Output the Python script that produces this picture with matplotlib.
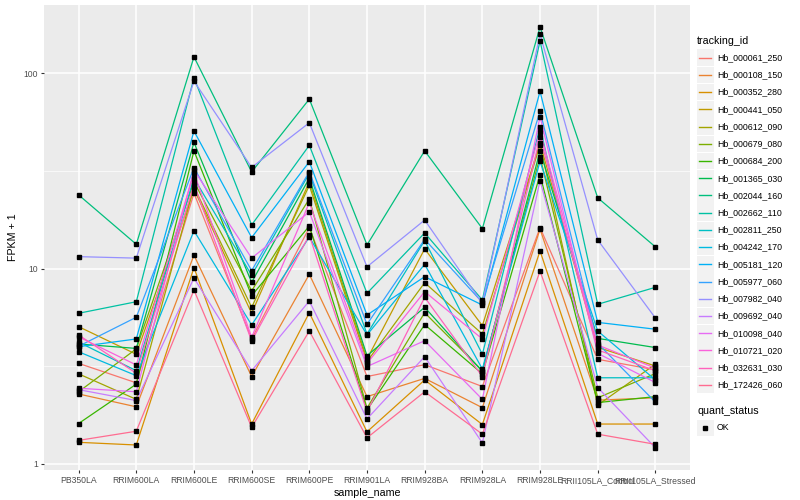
import matplotlib
matplotlib.use('Agg')
import matplotlib.pyplot as plt
from matplotlib.lines import Line2D
from matplotlib.patches import Rectangle

plt.rcParams['font.family'] = ['Liberation Sans', 'DejaVu Sans']

samples = ['PB350LA', 'RRIM600LA', 'RRIM600LE', 'RRIM600SE', 'RRIM600PE', 'RRIM901LA',
           'RRIM928BA', 'RRIM928LA', 'RRIM928LE', 'RRII105LA_Control', 'RRII105LA_Stressed']

tracking_ids = ['Hb_000061_250', 'Hb_000108_150', 'Hb_000352_280', 'Hb_000441_050',
                'Hb_000612_090', 'Hb_000679_080', 'Hb_000684_200', 'Hb_001365_030',
                'Hb_002044_160', 'Hb_002662_110', 'Hb_002811_250', 'Hb_004242_170',
                'Hb_005181_120', 'Hb_005977_060', 'Hb_007982_040', 'Hb_009692_040',
                'Hb_010098_040', 'Hb_010721_020', 'Hb_032631_030', 'Hb_172426_060']

# ggplot hue palette, 20 levels
colors = ['#F8766D', '#EA8331', '#D89000', '#C09B00', '#A3A500', '#7CAE00', '#39B600',
          '#00BB4E', '#00BF7D', '#00C1A3', '#00BFC4', '#00BAE0', '#00B0F6', '#35A2FF',
          '#9590FF', '#C77CFF', '#E76BF3', '#FA62DB', '#FF62BC', '#FF6C91']

# FPKM + 1, one list per tracking_id, in sample order
fpkm = [
    [3.27, 2.6, 24.3, 4.36, 16.2, 2.8, 3.22, 2.49, 16.2, 3.43, 3.03],
    [2.28, 1.96, 11.7, 2.8, 9.34, 2.21, 2.74, 1.94, 15.9, 2.12, 2.18],
    [1.29, 1.25, 10.1, 1.6, 5.94, 1.46, 2.69, 1.59, 12.3, 1.6, 1.6],
    [5.04, 3.64, 25.5, 5.9, 27.8, 3.44, 12.6, 5.1, 43.7, 3.95, 3.17],
    [2.89, 2.14, 26.2, 6.33, 26.6, 3.34, 8.46, 4.62, 43.0, 2.0, 3.24],
    [2.34, 3.88, 27.8, 7.69, 22.7, 1.93, 5.94, 3.0, 37.3, 2.18, 2.9],
    [1.61, 2.56, 40.0, 7.26, 16.5, 1.89, 5.16, 2.89, 30.2, 2.06, 2.21],
    [4.11, 3.9, 44.2, 8.49, 29.0, 3.58, 6.33, 2.97, 40.0, 4.39, 3.94],
    [23.8, 13.3, 121.0, 31.2, 73.6, 13.2, 40.0, 16.0, 172.0, 23.0, 12.9],
    [5.9, 6.76, 94.6, 16.7, 42.7, 7.47, 15.2, 6.9, 146.0, 6.56, 8.01],
    [4.2, 3.0, 29.0, 9.23, 30.7, 4.62, 13.9, 3.64, 52.9, 2.76, 2.76],
    [3.75, 2.83, 15.6, 5.14, 14.5, 4.57, 10.5, 3.06, 35.3, 4.79, 2.69],
    [3.98, 4.36, 50.5, 14.4, 35.2, 5.78, 9.08, 6.5, 80.6, 5.3, 4.89],
    [4.0, 5.63, 32.8, 9.75, 31.3, 5.18, 14.1, 6.7, 63.9, 4.14, 2.07],
    [11.5, 11.3, 91.0, 32.9, 55.7, 10.2, 17.7, 6.64, 158.0, 14.0, 5.58],
    [2.4, 2.11, 8.94, 3.0, 6.82, 1.7, 3.54, 1.28, 28.1, 2.46, 1.21],
    [2.44, 2.34, 31.9, 11.3, 19.5, 3.15, 4.27, 2.14, 59.8, 3.68, 2.61],
    [4.47, 3.21, 30.9, 4.45, 21.7, 3.27, 7.61, 4.36, 50.1, 4.06, 3.09],
    [4.57, 2.91, 26.9, 4.26, 14.8, 1.85, 7.12, 2.8, 46.9, 3.83, 3.0],
    [1.32, 1.47, 7.76, 1.54, 4.79, 1.36, 2.34, 1.42, 9.7, 1.42, 1.26],
]

fig = plt.figure(figsize=(8, 5), dpi=100)
ax = fig.add_axes([44 / 800, 30 / 500, 646 / 800, 465 / 500])
ax.set_facecolor('#EBEBEB')

x = list(range(len(samples)))
for vals, col in zip(fpkm, colors):
    ax.plot(x, vals, color=col, lw=0.9, zorder=3)
for vals in fpkm:
    ax.plot(x, vals, ls='none', marker='s', ms=2.2, color='black', zorder=4)

ax.set_yscale('log')
ax.set_ylim(0.931, 223)
ax.set_xlim(-0.6, len(samples) - 0.4)
ax.set_yticks([1, 10, 100])
ax.set_yticklabels(['1', '10', '100'])
ax.set_yticks([10 ** 0.5, 10 ** 1.5], minor=True)
ax.set_yticklabels([], minor=True)
ax.set_xticks(x)
ax.set_xticklabels(samples)

ax.grid(True, which='major', color='white', lw=1.1, zorder=0)
ax.grid(True, which='minor', axis='y', color='white', lw=0.5, zorder=0)
ax.set_axisbelow(True)
for s in ax.spines.values():
    s.set_visible(False)
ax.tick_params(axis='both', which='major', length=2.2, width=0.8, color='#333333',
               labelcolor='#4D4D4D', labelsize=6.2, pad=2)
ax.tick_params(axis='y', which='minor', length=0)

ax.set_xlabel('sample_name', fontsize=7.7, labelpad=2)
ax.set_ylabel('FPKM + 1', fontsize=7.7, labelpad=4)

# legends drawn in pixel coordinates of the figure
def px(xp, yp):
    return xp / 800, 1 - yp / 500

fig.text(*px(697, 41), 'tracking_id', fontsize=7.7, va='center', ha='left')
y0 = 57.7
step = 17.22
for i, (tid, col) in enumerate(zip(tracking_ids, colors)):
    yc = y0 + i * step
    bx, by = px(697, yc + 8.3)
    fig.patches.append(Rectangle((bx, by), 16.5 / 800, 16.6 / 500, transform=fig.transFigure,
                                 facecolor='#F2F2F2', edgecolor='none'))
    lx0, ly = px(699, yc)
    lx1, _ = px(711, yc)
    fig.lines.append(Line2D([lx0, lx1], [ly, ly], transform=fig.transFigure, color=col, lw=1.0))
    fig.text(*px(717, yc), tid, fontsize=6.3, va='center', ha='left')

fig.text(*px(697, 411), 'quant_status', fontsize=7.7, va='center', ha='left')
bx, by = px(697, 428 + 8.3)
fig.patches.append(Rectangle((bx, by), 16.5 / 800, 16.6 / 500, transform=fig.transFigure,
                             facecolor='#F2F2F2', edgecolor='none'))
mx, my = px(705, 428)
fig.lines.append(Line2D([mx], [my], transform=fig.transFigure, ls='none', marker='s',
                        ms=2.2, color='black'))
fig.text(*px(717, 428), 'OK', fontsize=6.3, va='center', ha='left')

fig.savefig('out.png', dpi=100)
